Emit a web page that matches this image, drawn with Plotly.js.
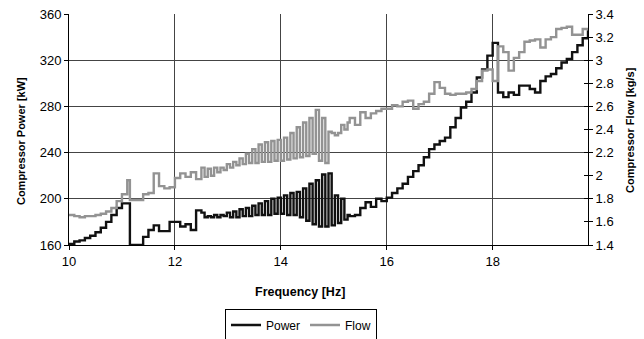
<!DOCTYPE html>
<html>
<head>
<meta charset="utf-8">
<script src="https://cdn.plot.ly/plotly-3.0.1.min.js"></script>
<style>html,body{margin:0;padding:0;background:#fff;}#chart{width:644px;height:339px;}</style>
</head>
<body>
<div id="chart"></div>
<script>
// Frequency [Hz]
const freq = [
  10.0,10.1,10.2,10.3,10.4,10.5,10.6,10.7,10.8,10.9,11.0,11.1,11.15,11.3,11.4,11.5,11.6,11.7,11.8,11.9,12.0,12.1,12.2,12.3,12.4,
  12.50,12.56,12.62,12.68,12.74,12.80,12.86,12.92,12.98,13.04,13.10,13.16,13.22,13.28,13.34,13.40,
  13.46,13.52,13.58,13.64,13.70,13.76,13.82,13.88,13.94,14.00,14.06,14.12,14.18,14.24,14.30,14.36,
  14.42,14.48,14.54,14.60,14.66,14.72,14.78,14.84,14.90,14.96,15.02,15.08,15.14,15.20,15.26,
  15.3,15.4,15.5,15.6,15.7,15.8,15.9,16.0,16.1,16.2,16.3,16.4,16.5,16.6,16.7,16.8,16.9,17.0,17.1,17.2,17.3,17.4,17.5,17.6,17.7,17.8,17.9,
  18.0,18.1,18.2,18.3,18.4,18.5,18.6,18.7,18.8,18.9,19.0,19.1,19.2,19.3,19.4,19.5,19.6,19.7,19.8
];
// Compressor power [kW]
const power = [
  161,163,164,166,168,171,175,180,186,192,196,196,160,160,167,173,177,172,172,180,180,176,178,173,190,
  188,184,185,184,186,184,186,185,188,184,189,184,191,185,192,185,
  194,186,196,186,198,186,200,187,201,187,203,186,205,186,206,184,
  209,181,213,178,216,176,221,176,222,177,203,179,200,182,186,
  185,186,192,197,193,200,198,201,205,209,213,219,224,229,236,243,247,250,253,262,270,279,284,292,305,312,324,
  335,292,288,292,290,298,298,295,292,302,306,308,313,318,321,327,333,339,346
];
// Compressor flow [kg/s]
const flow = [
  1.66,1.65,1.64,1.65,1.65,1.66,1.67,1.69,1.72,1.78,1.84,1.96,1.79,1.79,1.84,1.85,2.02,1.91,1.89,1.90,1.98,2.02,1.99,2.03,1.97,
  2.07,1.99,2.06,2.00,2.07,2.03,2.07,2.05,2.10,2.07,2.12,2.09,2.15,2.10,2.19,2.11,
  2.23,2.11,2.27,2.12,2.29,2.12,2.30,2.13,2.31,2.13,2.33,2.14,2.37,2.15,2.42,2.16,
  2.46,2.17,2.50,2.19,2.57,2.13,2.50,2.11,2.38,2.37,2.35,2.37,2.44,2.40,2.46,
  2.50,2.44,2.55,2.50,2.54,2.56,2.58,2.58,2.61,2.60,2.64,2.65,2.58,2.62,2.64,2.71,2.81,2.76,2.71,2.70,2.71,2.71,2.72,2.75,2.82,2.91,2.92,
  2.82,3.12,3.07,2.91,3.02,3.07,3.16,3.17,3.18,3.11,3.18,3.20,3.27,3.28,3.29,3.22,3.22,3.27,3.28
];
const seriesNames = ['Power', 'Flow'];
const xTitle = 'Frequency [Hz]';
const y1Title = 'Compressor Power [kW]';
const y2Title = 'Compressor Flow [kg/s]';

const FONT = 'Arial, "Liberation Sans", sans-serif';

const traces = [
  {x: freq, y: power, name: seriesNames[0], type: 'scatter', mode: 'lines',
   line: {shape: 'hv', color: '#111111', width: 2.4}, yaxis: 'y'},
  {x: freq, y: flow, name: seriesNames[1], type: 'scatter', mode: 'lines',
   line: {shape: 'hv', color: '#939393', width: 2.4}, yaxis: 'y2'}
];

const layout = {
  width: 644, height: 339,
  margin: {l: 69, r: 56, t: 14, b: 94, pad: 0, autoexpand: false},
  paper_bgcolor: '#ffffff', plot_bgcolor: '#ffffff',
  font: {family: FONT, size: 13, color: '#000'},
  showlegend: true,
  legend: {orientation: 'h', x: 0.447, xanchor: 'center', y: -0.346, yanchor: 'middle',
           bordercolor: '#000', borderwidth: 1, font: {family: FONT, size: 12, color: '#000'},
           itemwidth: 30, traceorder: 'normal'},
  xaxis: {range: [10, 19.8], dtick: 2, tick0: 10, showgrid: true, gridcolor: '#444', gridwidth: 1,
          zeroline: false, showline: true, linecolor: '#000', linewidth: 1, mirror: false, automargin: false,
          ticks: 'outside', ticklen: 4, tickcolor: '#000', tickfont: {size: 13}},
  yaxis: {range: [160, 360], dtick: 40, tick0: 160, showgrid: true, gridcolor: '#444', gridwidth: 1,
          zeroline: false, showline: true, linecolor: '#000', linewidth: 1, automargin: false,
          ticks: 'outside', ticklen: 4, tickcolor: '#000', tickfont: {size: 13}},
  yaxis2: {range: [1.4, 3.4], dtick: 0.2, tick0: 1.4, overlaying: 'y', side: 'right', showgrid: false,
           zeroline: false, showline: true, linecolor: '#000', linewidth: 1, automargin: false,
           ticks: 'outside', ticklen: 4, tickcolor: '#000', tickfont: {size: 13}},
  yaxis3: {range: [1.4, 3.4], dtick: 0.2, tick0: 1.4, overlaying: 'y', side: 'right', showgrid: false,
           zeroline: false, showline: false, showticklabels: false, automargin: false,
           ticks: 'inside', ticklen: 4, tickcolor: '#000'},
  annotations: [
    {text: '<b>' + xTitle + '</b>', xref: 'paper', yref: 'paper', x: 0.445, y: -0.2035,
     xanchor: 'center', yanchor: 'middle', showarrow: false, font: {family: FONT, size: 12.5, color: '#000'}},
    {text: '<b>' + y1Title + '</b>', xref: 'paper', yref: 'paper', x: -0.0925, y: 0.45,
     xanchor: 'center', yanchor: 'middle', textangle: -90, showarrow: false, font: {family: FONT, size: 11, color: '#000'}},
    {text: '<b>' + y2Title + '</b>', xref: 'paper', yref: 'paper', x: 1.081, y: 0.498,
     xanchor: 'center', yanchor: 'middle', textangle: -90, showarrow: false, font: {family: FONT, size: 11, color: '#000'}}
  ]
};

// invisible trace to activate the inside-tick overlay axis
traces.push({x: [freq[0]], y: [flow[0]], yaxis: 'y3', mode: 'lines', showlegend: false, hoverinfo: 'skip',
             line: {color: 'rgba(0,0,0,0)', width: 0}});

Plotly.newPlot('chart', traces, layout, {displayModeBar: false, staticPlot: true});
</script>
</body>
</html>
